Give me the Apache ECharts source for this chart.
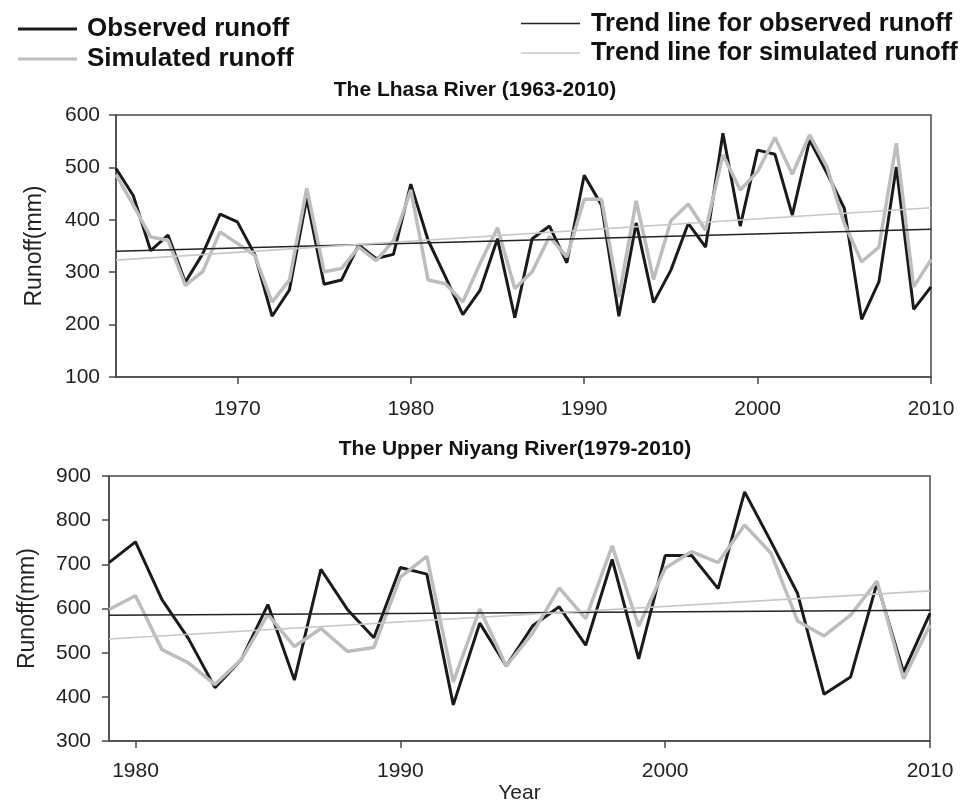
<!DOCTYPE html>
<html>
<head>
<meta charset="utf-8">
<script src="https://cdn.jsdelivr.net/npm/echarts@6/dist/echarts.min.js"></script>
<style>
html,body{margin:0;padding:0;background:#fff;}
#chart{width:970px;height:805px;}
</style>
</head>
<body>
<div id="chart"></div>
<script>
// ---- Data ----
const lhasaYears = [1963,1964,1965,1966,1967,1968,1969,1970,1971,1972,1973,1974,1975,1976,1977,1978,1979,1980,1981,1982,1983,1984,1985,1986,1987,1988,1989,1990,1991,1992,1993,1994,1995,1996,1997,1998,1999,2000,2001,2002,2003,2004,2005,2006,2007,2008,2009,2010];
const lhasaObserved = [498,446,341,371,281,335,411,396,334,216,266,441,277,285,352,326,334,468,361,291,219,266,364,213,364,388,318,485,428,216,394,242,304,393,348,565,388,533,525,409,552,489,422,210,282,501,229,272];
const lhasaSimulated = [486,428,367,361,275,301,377,355,332,243,285,460,301,307,348,322,360,457,285,278,243,317,385,269,301,368,329,439,439,253,436,286,398,430,380,524,457,492,557,487,562,501,393,320,348,546,272,324];
const lhasaTrendYears = [1963, 2010];
const lhasaObsTrend = [340, 382];
const lhasaSimTrend = [323, 423];

const niyangYears = [1979,1980,1981,1982,1983,1984,1985,1986,1987,1988,1989,1990,1991,1992,1993,1994,1995,1996,1997,1998,1999,2000,2001,2002,2003,2004,2005,2006,2007,2008,2009,2010];
const niyangObserved = [704,751,620,532,421,485,609,438,689,598,534,693,678,382,567,470,561,604,517,711,486,720,720,645,864,751,634,406,445,658,456,589];
const niyangSimulated = [598,629,507,477,428,485,587,514,555,503,512,671,718,434,599,470,545,647,577,742,560,691,729,704,789,725,572,538,585,662,441,563];
const niyangTrendYears = [1979, 2010];
const niyangObsTrend = [585, 596];
const niyangSimTrend = [531, 640];

const lhasaTicks = [1970, 1980, 1990, 2000, 2010];
const niyangTicks = [1980, 1990, 2000, 2010];

const titles = ['The Lhasa River (1963-2010)', 'The Upper Niyang River(1979-2010)'];
const seriesNames = ['Observed runoff', 'Simulated runoff', 'Trend line for observed runoff', 'Trend line for simulated runoff'];

// ---- Helpers ----
const zip = (xs, ys) => xs.map((x, i) => [x, ys[i]]);
const FONT = 'Liberation Sans';
const AX = '#4a4a4a';
const OBS_C = '#1a1a1a';
const SIM_C = '#bdbdbd';
const TOBS_C = '#222222';
const TSIM_C = '#c8c8c8';

function xAxisCfg(gridIndex, min, max, ticks, withName, margin) {
  return {
    type: 'value', gridIndex, min, max,
    name: withName ? 'Year' : '',
    nameLocation: 'middle', nameGap: 32,
    nameTextStyle: { fontFamily: FONT, fontSize: 21, color: '#222' },
    axisLine: { show: true, onZero: false, lineStyle: { color: AX, width: 1.5 } },
    axisTick: { show: true, inside: false, length: 7, customValues: ticks, lineStyle: { color: AX, width: 1.5 } },
    axisLabel: { customValues: ticks, margin: margin, fontFamily: FONT, fontSize: 21, color: '#222',
      formatter: v => String(v) },
    splitLine: { show: false }
  };
}
function yAxisCfg(gridIndex, min, max, margin) {
  return {
    type: 'value', gridIndex, min, max, interval: 100,
    name: 'Runoff(mm)', nameLocation: 'middle', nameGap: 70, nameRotate: 90,
    nameTextStyle: { fontFamily: FONT, fontSize: 23, color: '#222' },
    axisLine: { show: true, onZero: false, lineStyle: { color: AX, width: 1.5 } },
    axisTick: { show: true, inside: false, length: 7, lineStyle: { color: AX, width: 1.5 } },
    axisLabel: { margin: margin, fontFamily: FONT, fontSize: 21, color: '#222' },
    splitLine: { show: false }
  };
}
function lineSeries(name, idx, data, color, width) {
  return {
    name, type: 'line', xAxisIndex: idx, yAxisIndex: idx, data,
    symbol: 'none', smooth: false, animation: false,
    lineStyle: { color, width }, itemStyle: { color },
    z: width > 2 ? 3 : 4
  };
}

const chart = echarts.init(document.getElementById('chart'), null, { renderer: 'canvas' });
chart.setOption({
  backgroundColor: '#ffffff',
  animation: false,
  title: [
    { text: titles[0], left: 470, top: 75, textAlign: 'center',
      textStyle: { fontFamily: FONT, fontWeight: 'bold', fontSize: 21, color: '#111' } },
    { text: titles[1], left: 510, top: 434, textAlign: 'center',
      textStyle: { fontFamily: FONT, fontWeight: 'bold', fontSize: 21, color: '#111' } }
  ],
  legend: [
    { data: [seriesNames[0], seriesNames[1]], orient: 'vertical', left: 13, top: 11,
      itemWidth: 59, itemHeight: 14, itemGap: 4, selectedMode: false,
      icon: 'path://M0,6 L59,6 L59,9 L0,9 Z',
      textStyle: { fontFamily: FONT, fontWeight: 'bold', fontSize: 26, color: '#111', padding: [0, 0, 0, 5] } },
    { data: [seriesNames[2], seriesNames[3]], orient: 'vertical', left: 516, top: 6,
      itemWidth: 59, itemHeight: 14, itemGap: 4.5, selectedMode: false,
      icon: 'path://M0,7 L59,7 L59,8.5 L0,8.5 Z',
      textStyle: { fontFamily: FONT, fontWeight: 'bold', fontSize: 25.4, color: '#111', padding: [0, 0, 0, 6] } }
  ],
  grid: [
    { left: 116, right: 39, top: 115, height: 262, show: true, borderColor: AX, borderWidth: 1.5, backgroundColor: 'transparent' },
    { left: 109, right: 40, top: 476, height: 273, show: true, borderColor: AX, borderWidth: 1.5, backgroundColor: 'transparent' }
  ],
  xAxis: [
    xAxisCfg(0, 1963, 2010, lhasaTicks, false, 22),
    xAxisCfg(1, 1979, 2010, niyangTicks, true, 20)
  ],
  yAxis: [
    yAxisCfg(0, 100, 600, 16),
    yAxisCfg(1, 300, 900, 18)
  ],
  series: [
    lineSeries(seriesNames[0], 0, zip(lhasaYears, lhasaObserved), OBS_C, 3),
    lineSeries(seriesNames[1], 0, zip(lhasaYears, lhasaSimulated), SIM_C, 3.5),
    lineSeries(seriesNames[2], 0, zip(lhasaTrendYears, lhasaObsTrend), TOBS_C, 1.4),
    lineSeries(seriesNames[3], 0, zip(lhasaTrendYears, lhasaSimTrend), TSIM_C, 1.6),
    lineSeries(seriesNames[0], 1, zip(niyangYears, niyangObserved), OBS_C, 3),
    lineSeries(seriesNames[1], 1, zip(niyangYears, niyangSimulated), SIM_C, 3.5),
    lineSeries(seriesNames[2], 1, zip(niyangTrendYears, niyangObsTrend), TOBS_C, 1.4),
    lineSeries(seriesNames[3], 1, zip(niyangTrendYears, niyangSimTrend), TSIM_C, 1.6)
  ]
});
</script>
</body>
</html>
